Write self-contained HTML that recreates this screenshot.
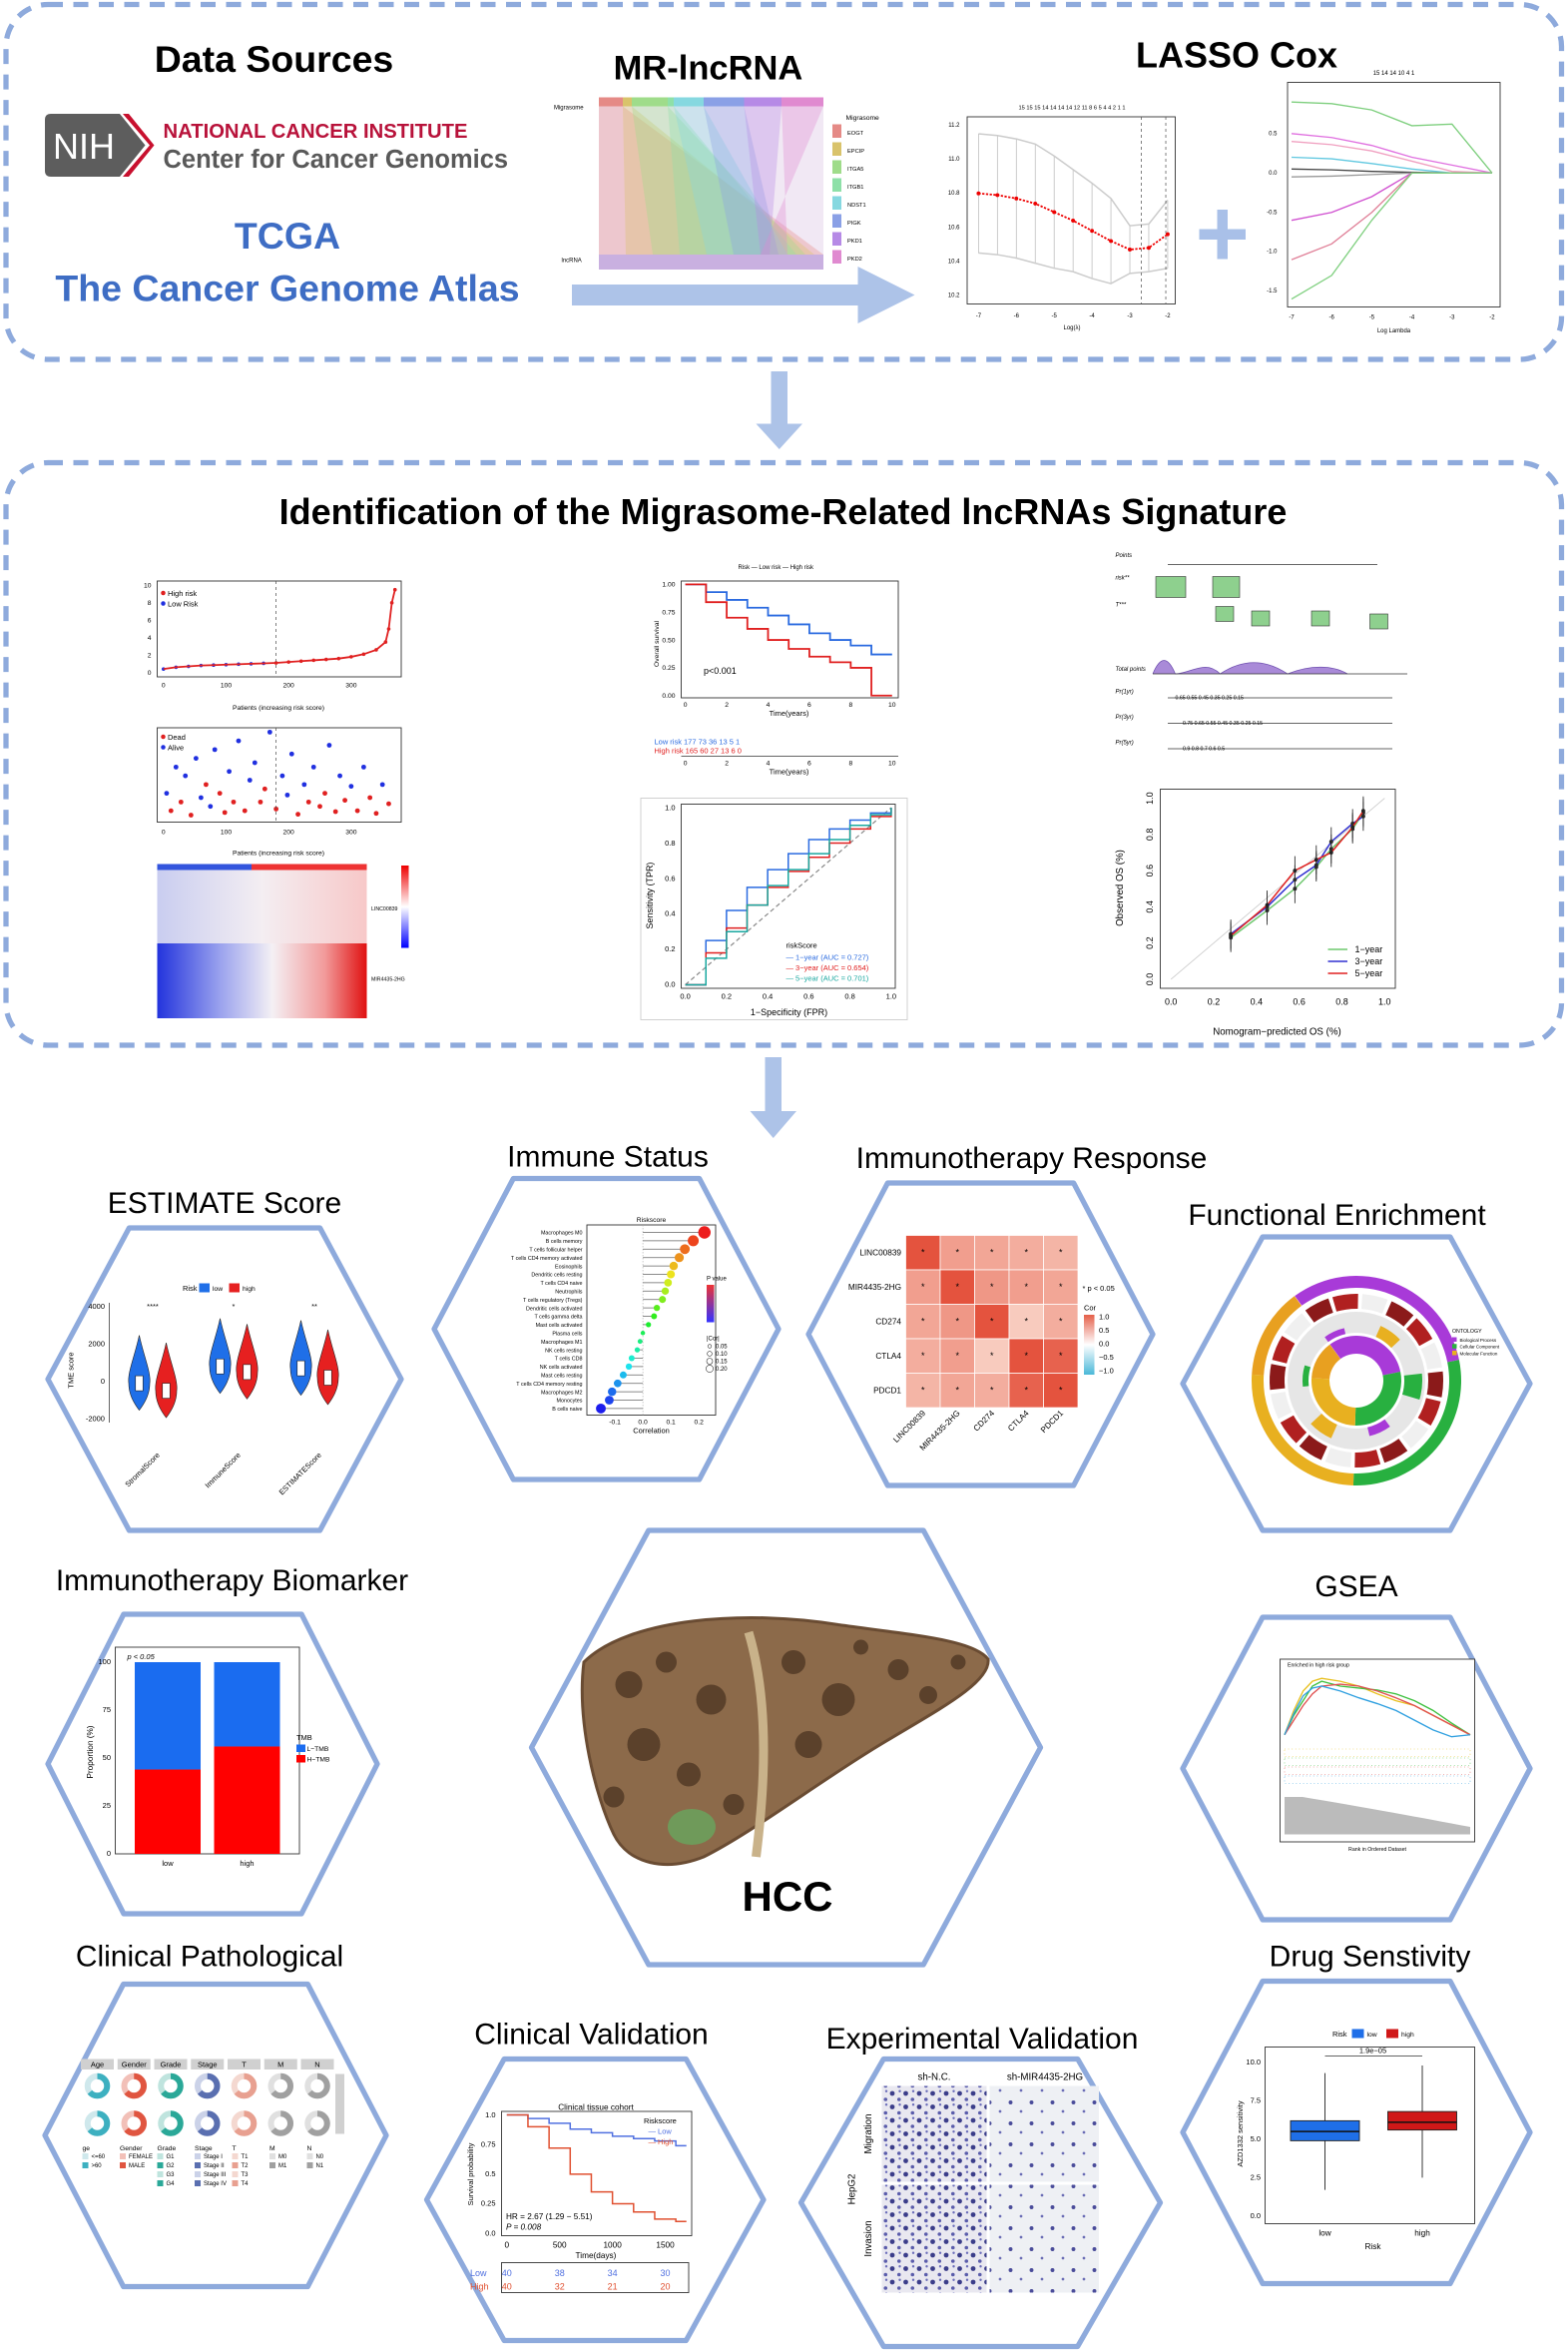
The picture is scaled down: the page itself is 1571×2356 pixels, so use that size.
<!DOCTYPE html>
<html><head><meta charset="utf-8">
<style>
html,body{margin:0;padding:0;background:#fff;}
svg{display:block;font-family:"Liberation Sans",Arial,sans-serif;}
</style></head>
<body>
<svg id="root" width="1571" height="2356" viewBox="0 0 1047.33 1570.67" xmlns="http://www.w3.org/2000/svg">
<defs>
<linearGradient id="hmTop" x1="0" x2="1"><stop offset="0" stop-color="#c9cdf0"/><stop offset="0.5" stop-color="#f4eef2"/><stop offset="1" stop-color="#f7c8c8"/></linearGradient>
<linearGradient id="hmBot" x1="0" x2="1"><stop offset="0" stop-color="#2233dd"/><stop offset="0.3" stop-color="#9aa2ee"/><stop offset="0.55" stop-color="#f4f0f4"/><stop offset="0.8" stop-color="#f29a9a"/><stop offset="1" stop-color="#e01010"/></linearGradient>
<linearGradient id="legRB" x1="0" y1="0" x2="0" y2="1"><stop offset="0" stop-color="#e00"/><stop offset="0.5" stop-color="#fff"/><stop offset="1" stop-color="#00f"/></linearGradient>
<linearGradient id="legP" x1="0" y1="0" x2="0" y2="1"><stop offset="0" stop-color="#e33"/><stop offset="1" stop-color="#33f"/></linearGradient>
<linearGradient id="legC" x1="0" y1="0" x2="0" y2="1"><stop offset="0" stop-color="#e5604a"/><stop offset="0.5" stop-color="#fff"/><stop offset="1" stop-color="#4ab8d8"/></linearGradient>
<pattern id="cells" width="9" height="9" patternUnits="userSpaceOnUse"><rect width="9" height="9" fill="#e9e8f0"/><circle cx="2" cy="3" r="1.6" fill="#3b3d8a"/><circle cx="6.5" cy="7" r="1.2" fill="#5a5cab"/><circle cx="7" cy="1.5" r="0.8" fill="#6b6dbb"/></pattern>
<pattern id="cells2" width="14" height="14" patternUnits="userSpaceOnUse"><rect width="14" height="14" fill="#eef0f4"/><circle cx="3" cy="4" r="1.3" fill="#4a4c9a"/><circle cx="10" cy="10" r="0.9" fill="#6a6cb5"/></pattern>
</defs>

<rect x="4" y="3" width="1039" height="237" rx="28" fill="none" stroke="#8eaadc" stroke-width="3.5" stroke-dasharray="10 7"/>
<text x="183" y="48" font-size="25" font-weight="bold" text-anchor="middle">Data Sources</text>
<g>
<path d="M34,76 H80 L97,97 L80,118 H34 Q30,118 30,114 V80 Q30,76 34,76Z" fill="#5d5d5d"/>
<path d="M82,76 L100,97 L82,118 L86,118 L103,97 L86,76Z" fill="#c8102e"/>
<text x="56" y="106" font-size="24" fill="#fff" text-anchor="middle">NIH</text>
</g>
<text x="109" y="92" font-size="13.5" font-weight="bold" fill="#b8123a">NATIONAL CANCER INSTITUTE</text>
<text x="109" y="112" font-size="17" font-weight="bold" fill="#595959">Center for Cancer Genomics</text>
<text x="192" y="166" font-size="25" font-weight="bold" fill="#3e6dc4" text-anchor="middle">TCGA</text>
<text x="192" y="201" font-size="25" font-weight="bold" fill="#3e6dc4" text-anchor="middle">The Cancer Genome Atlas</text>
<text x="473" y="53" font-size="23" font-weight="bold" text-anchor="middle">MR-lncRNA</text>
<g id="sankey"></g>
<path d="M382,190 H573 V178 L611,197 L573,216 V204 H382Z" fill="#adc3e8"/>
<text x="826" y="45" font-size="24" font-weight="bold" text-anchor="middle">LASSO Cox</text>
<g id="lassoCV"></g>
<path d="M813,140 h7 v13 h12 v7 h-12 v13 h-7 v-13 h-12 v-7 h12z" fill="#a9c0e8"/>
<g id="lassoCoef"></g>

<path d="M515,248 H526 V283 H536 L520.5,300 L505,283 H515Z" fill="#adc3e8"/>

<rect x="4" y="309" width="1039" height="389" rx="28" fill="none" stroke="#8eaadc" stroke-width="3.5" stroke-dasharray="10 7"/>
<text x="523" y="350" font-size="24" font-weight="bold" text-anchor="middle">Identification of the Migrasome-Related lncRNAs Signature</text>
<g id="riskPlot"></g>
<g id="survPlot"></g>
<g id="heatPlot"></g>
<g id="kmPlot"></g>
<g id="rocPlot"></g>
<g id="nomoPlot"></g>
<g id="calPlot"></g>

<path d="M511,706 H522 V742 H532 L516.5,760 L501,742 H511Z" fill="#adc3e8"/>

<g id="hexes"></g>
<text x="150" y="810" font-size="20" text-anchor="middle">ESTIMATE Score</text>
<text x="406" y="779" font-size="20" text-anchor="middle">Immune Status</text>
<text x="689" y="780" font-size="20" text-anchor="middle">Immunotherapy Response</text>
<text x="893" y="818" font-size="20" text-anchor="middle">Functional Enrichment</text>
<text x="155" y="1062" font-size="20" text-anchor="middle">Immunotherapy Biomarker</text>
<text x="906" y="1066" font-size="20" text-anchor="middle">GSEA</text>
<text x="140" y="1313" font-size="20" text-anchor="middle">Clinical Pathological</text>
<text x="395" y="1365" font-size="20" text-anchor="middle">Clinical Validation</text>
<text x="656" y="1368" font-size="20" text-anchor="middle">Experimental Validation</text>
<text x="915" y="1313" font-size="20" text-anchor="middle">Drug Senstivity</text>

<g id="violin"></g>
<g id="lolli"></g>
<g id="corrHeat"></g>
<g id="circos"></g>
<g id="tmbBar"></g>
<g>
<path d="M390,1110 C420,1080 500,1075 560,1085 C610,1092 650,1095 660,1108 C662,1125 620,1145 580,1170 C540,1195 500,1225 470,1240 C445,1250 420,1245 410,1225 C398,1200 385,1150 390,1110Z" fill="#8c6a4a" stroke="#6a4c33" stroke-width="2"/>
<path d="M500,1090 C515,1140 510,1200 505,1240" stroke="#c9b28a" stroke-width="6" fill="none"/>
<ellipse cx="462" cy="1220" rx="16" ry="12" fill="#6f9a5a"/>
<g fill="#5b412b">
<circle cx="420" cy="1125" r="9"/><circle cx="445" cy="1110" r="7"/><circle cx="475" cy="1135" r="10"/><circle cx="430" cy="1165" r="11"/><circle cx="460" cy="1185" r="8"/><circle cx="530" cy="1110" r="8"/><circle cx="560" cy="1135" r="11"/><circle cx="600" cy="1115" r="7"/><circle cx="620" cy="1132" r="6"/><circle cx="540" cy="1165" r="9"/><circle cx="490" cy="1205" r="7"/><circle cx="410" cy="1200" r="7"/><circle cx="575" cy="1100" r="5"/><circle cx="640" cy="1110" r="5"/>
</g>
<text x="526" y="1276" font-size="28" font-weight="bold" text-anchor="middle">HCC</text>
</g>
<g id="gsea"></g>
<g id="donuts"></g>
<g id="cvKM"></g>
<g id="exp"></g>
<g id="drug"></g>
</svg>

<script>
const cvLambda=[-7,-6.5,-6,-5.5,-5,-4.5,-4,-3.5,-3,-2.5,-2];
const cvDeviance=[10.80,10.79,10.77,10.74,10.69,10.64,10.58,10.52,10.47,10.48,10.56];
const cvErr=[0.35,0.35,0.35,0.35,0.33,0.30,0.28,0.25,0.14,0.14,0.2];
const coefLambda=[-7,-6,-5,-4,-3,-2];
const coefSeries=[[0.9,0.88,0.8,0.6,0.62,0],[0.5,0.45,0.35,0.2,0.1,0],[0.4,0.36,0.28,0.15,0.02,0],[0.2,0.18,0.12,0.05,0,0],[0.05,0.04,0.02,0.01,0,0],[-0.05,-0.04,-0.02,0,0,0],[-0.6,-0.5,-0.3,0,0,0],[-1.1,-0.9,-0.5,0,0,0],[-1.6,-1.3,-0.6,0,0,0]];
const coefColors=["#7ecf7e","#e070e0","#f0a0c0","#60c8e0","#444","#999","#d050d0","#e08098","#80d080"];
const riskIdx=[0,20,40,60,80,100,120,140,160,180,200,220,240,260,280,300,320,340,355,360,365,370];
const riskVal=[0.4,0.6,0.7,0.8,0.85,0.9,0.95,1.0,1.05,1.1,1.2,1.3,1.4,1.5,1.6,1.8,2.1,2.6,3.5,5,8,9.5];
const survIdx=[5,12,20,28,35,44,52,60,68,75,82,90,98,105,112,120,130,138,146,155,162,170,180,190,198,205,215,225,232,240,250,258,265,275,282,290,300,310,320,330,340,350,360];
const survTime=[3,1,6,2,5,0.5,7,2.5,4,1.5,8,3,0.8,5.5,2,9,1,4.5,6.5,2,3.5,10,1.2,5,2.8,7.5,0.6,4,2,6,1.5,3,8.5,0.9,5,2.2,3.8,1,6,2.5,0.7,4,1.8];
const survDead=[0,1,0,1,0,1,0,0,1,0,0,1,1,0,1,0,1,0,0,1,1,0,1,0,0,0,1,0,1,0,1,1,0,1,0,1,0,1,0,1,1,0,1];
const kmTime=[0,1,2,3,4,5,6,7,8,9,10];
const kmLow=[1,0.93,0.86,0.79,0.72,0.64,0.56,0.5,0.45,0.37,0.37];
const kmHigh=[1,0.84,0.7,0.6,0.5,0.42,0.35,0.3,0.25,0,0];
const rocFPR=[0,0.1,0.2,0.3,0.4,0.5,0.6,0.7,0.8,0.9,1];
const roc1=[0,0.25,0.42,0.55,0.65,0.74,0.82,0.88,0.93,0.97,1];
const roc3=[0,0.18,0.32,0.45,0.55,0.64,0.72,0.8,0.88,0.95,1];
const roc5=[0,0.15,0.3,0.45,0.56,0.65,0.74,0.82,0.9,0.96,1];
const calPred=[0.28,0.45,0.58,0.68,0.75,0.85,0.9];
const cal1=[0.23,0.38,0.5,0.62,0.72,0.83,0.92];
const cal3=[0.25,0.4,0.55,0.63,0.76,0.86,0.9];
const cal5=[0.24,0.41,0.6,0.66,0.7,0.84,0.93];
const violinGroups=["StromalScore","ImmuneScore","ESTIMATEScore"];
const violinLowMed=[-100,800,700];
const violinHighMed=[-500,500,200];
const immuneCells=["Macrophages M0","B cells memory","T cells follicular helper","T cells CD4 memory activated","Eosinophils","Dendritic cells resting","T cells CD4 naive","Neutrophils","T cells regulatory (Tregs)","Dendritic cells activated","T cells gamma delta","Mast cells activated","Plasma cells","Macrophages M1","NK cells resting","T cells CD8","NK cells activated","Mast cells resting","T cells CD4 memory resting","Macrophages M2","Monocytes","B cells naive"];
const immuneCorr=[0.22,0.18,0.15,0.13,0.11,0.1,0.09,0.08,0.07,0.05,0.04,0.02,0.0,-0.01,-0.02,-0.04,-0.05,-0.07,-0.09,-0.11,-0.12,-0.15];
const corrGenes=["LINC00839","MIR4435-2HG","CD274","CTLA4","PDCD1"];
const corrMatrix=[[1,0.5,0.45,0.4,0.35],[0.5,1,0.55,0.5,0.45],[0.45,0.55,1,0.2,0.4],[0.4,0.5,0.2,1,0.9],[0.35,0.45,0.4,0.9,1]];
const tmbGroups=["low","high"];
const tmbHigh=[44,56];
const gseaX=[0,0.05,0.1,0.15,0.2,0.3,0.4,0.5,0.6,0.7,0.8,0.9,1];
const gseaES=[[0,0.25,0.45,0.55,0.58,0.55,0.5,0.42,0.35,0.3,0.2,0.1,0],[0,0.2,0.35,0.5,0.55,0.5,0.48,0.46,0.42,0.35,0.25,0.12,0],[0,0.15,0.3,0.42,0.5,0.52,0.5,0.45,0.38,0.3,0.2,0.1,0],[0,0.22,0.4,0.48,0.5,0.45,0.38,0.32,0.25,0.15,0.05,-0.02,0]];
const gseaColors=["#e8c020","#40c040","#e05050","#30a0e0"];
const cvDays=[0,200,400,600,800,1000,1200,1400,1600,1700];
const cvLowSurv=[1,0.97,0.93,0.88,0.85,0.82,0.8,0.78,0.74,0.74];
const cvHighSurv=[1,0.9,0.72,0.5,0.35,0.25,0.18,0.12,0.1,0.1];
const drugLow=[5.5,6.2,6.8,4.9,4.2];
const drugHigh=[6.1,6.8,7.3,5.6,5.0];

const NS="http://www.w3.org/2000/svg";
function mk(parent,tag,attrs,name){const el=document.createElementNS(NS,tag);for(const k in attrs)el.setAttribute(k,attrs[k]);


parent.appendChild(el);return el;}
function txt(p,x,y,s,size,name,extra){const t=mk(p,'text',Object.assign({x:x,y:y,'font-size':size},extra||{}),name);t.textContent=s;return t;}
function lin(d0,d1,r0,r1){return v=>r0+(v-d0)/(d1-d0)*(r1-r0);}
function G(id){return document.getElementById(id);}
function frame(p,x0,y0,x1,y1){mk(p,'rect',{x:x0,y:y0,width:x1-x0,height:y1-y0,fill:'#fff',stroke:'#333','stroke-width':0.6},'plot-frame');}
function poly(p,xs,ys,X,Y,col,w,name,step){let d='';xs.forEach((v,i)=>{if(i==0)d+='M'+X(v)+','+Y(ys[i]);else if(step)d+='H'+X(v)+'V'+Y(ys[i]);else d+='L'+X(v)+','+Y(ys[i]);});return mk(p,'path',{d:d,fill:'none',stroke:col,'stroke-width':w||1},name);}

(function(){const g=G('sankey');const cols=["#e58a86","#d9c36b","#9fdc8a","#8ee0a8","#86d8e0","#8aa0e6","#b68ae6","#e08ad0"];
const tops=[400,416,422,446,450,470,497,522,550];
mk(g,'rect',{x:400,y:65,width:150,height:112,fill:'#f1e8f4'},'sankey-bg');
for(let i=0;i<8;i++){mk(g,'rect',{x:tops[i],y:65,width:tops[i+1]-tops[i],height:6,fill:cols[i]},'sankey-top-node');
mk(g,'path',{d:`M${tops[i]},71 L${tops[i+1]},71 L${550-i*6},170 L${400+i*18},170Z`,fill:cols[i],opacity:0.35},'sankey-flow');
mk(g,'rect',{x:556,y:83+i*12,width:6,height:9,fill:cols[i]},'sankey-legend-key');}
mk(g,'rect',{x:400,y:170,width:150,height:10,fill:'#c9b0e0'},'sankey-bottom-node');
txt(g,370,73,'Migrasome',4,'sankey-top-label');txt(g,375,175,'lncRNA',4,'sankey-bottom-label');txt(g,565,80,'Migrasome',4.5,'sankey-legend-title');
["EOGT","EPCIP","ITGA5","ITGB1","NDST1","PIGK","PKD1","PKD2"].forEach((s,i)=>txt(g,566,90+i*12,s,3.8,'sankey-legend-label'));})();

(function(){const g=G('lassoCV');frame(g,646,78,785,203);const X=lin(-7.3,-1.8,646,785),Y=lin(10.15,11.25,203,78);
cvLambda.forEach((l,i)=>{mk(g,'line',{x1:X(l),x2:X(l),y1:Y(cvDeviance[i]-cvErr[i]),y2:Y(cvDeviance[i]+cvErr[i]),stroke:'#bbb','stroke-width':0.5},'cv-error-bar');});
poly(g,cvLambda,cvDeviance.map((d,i)=>d+cvErr[i]),X,Y,'#ccc',1,'cv-upper');poly(g,cvLambda,cvDeviance.map((d,i)=>d-cvErr[i]),X,Y,'#ccc',1,'cv-lower');
cvLambda.forEach((l,i)=>mk(g,'circle',{cx:X(l),cy:Y(cvDeviance[i]),r:1.3,fill:'#e00'},'cv-point'));
poly(g,cvLambda,cvDeviance,X,Y,'#e00',1.2,'cv-curve').setAttribute('stroke-dasharray','1.5 1');
mk(g,'line',{x1:X(-2.7),x2:X(-2.7),y1:78,y2:203,stroke:'#555','stroke-width':0.5,'stroke-dasharray':'2 2'},'lambda-min-line');
mk(g,'line',{x1:X(-2.05),x2:X(-2.05),y1:78,y2:203,stroke:'#555','stroke-width':0.5,'stroke-dasharray':'2 2'},'lambda-1se-line');
[-7,-6,-5,-4,-3,-2].forEach(v=>txt(g,X(v),212,String(v),4,'cv-x-tick',{'text-anchor':'middle'}));
[10.2,10.4,10.6,10.8,11.0,11.2].forEach(v=>txt(g,641,Y(v)+1,v.toFixed(1),4,'cv-y-tick',{'text-anchor':'end'}));
txt(g,716,220,'Log(λ)',4,'cv-x-title',{'text-anchor':'middle'});
txt(g,716,73,'15 15 15 14 14 14 14 12 11 8 6 5 4 4 2 1 1',3.8,'cv-top-ticks',{'text-anchor':'middle'});})();

(function(){const g=G('lassoCoef');mk(g,'rect',{x:860,y:55,width:142,height:150,fill:'#fff',stroke:'#333','stroke-width':0.6},'coef-frame');
const X=lin(-7.1,-1.8,860,1002),Y=lin(-1.7,1.15,205,55);
coefSeries.forEach((s,i)=>poly(g,coefLambda,s,X,Y,coefColors[i],0.9,'coef-line'));
[-7,-6,-5,-4,-3,-2].forEach(v=>txt(g,X(v),213,String(v),4,'coef-x-tick',{'text-anchor':'middle'}));
[-1.5,-1.0,-0.5,0,0.5].forEach(v=>txt(g,853,Y(v)+1,v.toFixed(1),4,'coef-y-tick',{'text-anchor':'end'}));
txt(g,931,222,'Log Lambda',4,'coef-x-title',{'text-anchor':'middle'});
txt(g,931,50,'15      14      14      10      4       1',4,'coef-top-ticks',{'text-anchor':'middle'});})();

(function(){const g=G('riskPlot');frame(g,105,388,268,452);const X=lin(-10,380,105,268),Y=lin(-0.5,10.5,452,388);
riskIdx.forEach((v,i)=>mk(g,'circle',{cx:X(v),cy:Y(riskVal[i]),r:1.2,fill:v<180?'#2030e0':'#e02020'},'risk-point'));
poly(g,riskIdx,riskVal,X,Y,'#e02020',1.2,'risk-curve');
mk(g,'line',{x1:X(180),x2:X(180),y1:388,y2:452,stroke:'#555','stroke-width':0.5,'stroke-dasharray':'2 2'},'risk-cutoff');
[0,100,200,300].forEach(v=>txt(g,X(v),459,String(v),4.5,'risk-x-tick',{'text-anchor':'middle'}));
[0,2,4,6,8,10].forEach(v=>txt(g,101,Y(v)+1.5,String(v),4.5,'risk-y-tick',{'text-anchor':'end'}));
txt(g,186,474,'Patients (increasing risk score)',4.5,'risk-x-title',{'text-anchor':'middle'});
mk(g,'circle',{cx:109,cy:396,r:1.5,fill:'#e02020'},'legend-high');txt(g,112,398,'High risk',5,'legend-high-label');
mk(g,'circle',{cx:109,cy:403,r:1.5,fill:'#2030e0'},'legend-low');txt(g,112,405,'Low Risk',5,'legend-low-label');})();

(function(){const g=G('survPlot');frame(g,105,486,268,549);const X=lin(-10,380,105,268),Y=lin(-0.3,10.5,549,486);
survIdx.forEach((v,i)=>mk(g,'circle',{cx:X(v),cy:Y(survTime[i]),r:1.6,fill:survDead[i]?'#e02020':'#2030e0'},'survival-point'));
mk(g,'line',{x1:X(180),x2:X(180),y1:486,y2:549,stroke:'#555','stroke-width':0.5,'stroke-dasharray':'2 2'},'survival-cutoff');
[0,100,200,300].forEach(v=>txt(g,X(v),557,String(v),4.5,'surv-x-tick',{'text-anchor':'middle'}));
txt(g,186,571,'Patients (increasing risk score)',4.5,'surv-x-title',{'text-anchor':'middle'});
mk(g,'circle',{cx:109,cy:492,r:1.5,fill:'#e02020'},'legend-dead');txt(g,112,494,'Dead',5,'legend-dead-label');
mk(g,'circle',{cx:109,cy:499,r:1.5,fill:'#2030e0'},'legend-alive');txt(g,112,501,'Alive',5,'legend-alive-label');})();

(function(){const g=G('heatPlot');mk(g,'rect',{x:105,y:577,width:63,height:4,fill:'#3355dd'},'risk-bar-low');mk(g,'rect',{x:168,y:577,width:77,height:4,fill:'#ee3333'},'risk-bar-high');
mk(g,'rect',{x:105,y:581,width:140,height:49,fill:'url(#hmTop)'},'heatmap-row-linc00839');
mk(g,'rect',{x:105,y:630,width:140,height:50,fill:'url(#hmBot)'},'heatmap-row-mir4435');
mk(g,'rect',{x:268,y:578,width:5,height:55,fill:'url(#legRB)'},'heatmap-legend');
txt(g,248,608,'LINC00839',3.5,'heatmap-label-1');txt(g,248,655,'MIR4435-2HG',3.5,'heatmap-label-2');})();

(function(){const g=G('kmPlot');frame(g,455,388,600,466);const X=lin(-0.2,10.3,455,600),Y=lin(-0.02,1.03,466,388);
poly(g,kmTime,kmLow,X,Y,'#2b6be0',1.2,'km-low-risk',true);poly(g,kmTime,kmHigh,X,Y,'#e02020',1.2,'km-high-risk',true);
txt(g,470,450,'p<0.001',6,'km-pvalue');
[0,2,4,6,8,10].forEach(v=>txt(g,X(v),472,String(v),4.5,'km-x-tick',{'text-anchor':'middle'}));
[0,0.25,0.5,0.75,1].forEach(v=>txt(g,451,Y(v)+1.5,v.toFixed(2),4.5,'km-y-tick',{'text-anchor':'end'}));
txt(g,527,478,'Time(years)',5,'km-x-title',{'text-anchor':'middle'});
txt(g,493,380,'Risk  — Low risk  — High risk',4,'km-legend');
txt(g,440,430,'Overall survival',4.5,'km-y-title',{transform:'rotate(-90 440 430)','text-anchor':'middle'});
mk(g,'line',{x1:455,x2:600,y1:505,y2:505,stroke:'#333','stroke-width':0.5},'risk-table-axis');
txt(g,437,497,'Low risk  177      73        36        13         5          1',5,'risk-table-low',{fill:'#2b6be0'});
txt(g,437,503,'High risk 165      60        27        13         6          0',5,'risk-table-high',{fill:'#e02020'});
[0,2,4,6,8,10].forEach(v=>txt(g,X(v),511,String(v),4.5,'table-x-tick',{'text-anchor':'middle'}));
txt(g,527,517,'Time(years)',5,'table-x-title',{'text-anchor':'middle'});})();

(function(){const g=G('rocPlot');mk(g,'rect',{x:428,y:533,width:178,height:148,fill:'#fff',stroke:'#ccc','stroke-width':0.6},'roc-panel');frame(g,455,537,598,660);
const X=lin(-0.02,1.02,455,598),Y=lin(-0.02,1.02,660,537);
mk(g,'line',{x1:X(0),y1:Y(0),x2:X(1),y2:Y(1),stroke:'#888','stroke-dasharray':'3 2','stroke-width':0.8},'roc-diagonal');
poly(g,rocFPR,roc1,X,Y,'#2b6be0',1,'roc-1-year',true);poly(g,rocFPR,roc3,X,Y,'#e02020',1,'roc-3-year',true);poly(g,rocFPR,roc5,X,Y,'#1aa8a0',1,'roc-5-year',true);
[0,0.2,0.4,0.6,0.8,1].forEach(v=>{txt(g,X(v),667,v.toFixed(1),5,'roc-x-tick',{'text-anchor':'middle'});txt(g,451,Y(v)+1.5,v.toFixed(1),5,'roc-y-tick',{'text-anchor':'end'});});
txt(g,527,678,'1−Specificity (FPR)',6,'roc-x-title',{'text-anchor':'middle'});
txt(g,436,598,'Sensitivity (TPR)',6,'roc-y-title',{transform:'rotate(-90 436 598)','text-anchor':'middle'});
txt(g,525,633,'riskScore',5,'roc-legend-title');txt(g,525,641,'— 1−year (AUC = 0.727)',5,'roc-legend-1',{fill:'#2b6be0'});
txt(g,525,648,'— 3−year (AUC = 0.654)',5,'roc-legend-3',{fill:'#e02020'});txt(g,525,655,'— 5−year (AUC = 0.701)',5,'roc-legend-5',{fill:'#1aa8a0'});})();

(function(){const g=G('nomoPlot');
const rows=[372,387,405,428,448,463,480,497];["Points","risk**","T***","","Total points","Pr(1yr)","Pr(3yr)","Pr(5yr)"].forEach((s,i)=>txt(g,745,rows[i],s,4,'nomogram-row-label',{'font-style':'italic'}));
mk(g,'line',{x1:780,x2:920,y1:377,y2:377,stroke:'#333','stroke-width':0.5},'points-axis');
mk(g,'rect',{x:772,y:385,width:20,height:14,fill:'#8ed08e',stroke:'#333','stroke-width':0.4},'risk-box-1');mk(g,'rect',{x:810,y:385,width:18,height:14,fill:'#8ed08e',stroke:'#333','stroke-width':0.4},'risk-box-2');
[[812,405],[836,408],[876,408],[915,410]].forEach(p=>mk(g,'rect',{x:p[0],y:p[1],width:12,height:10,fill:'#8ed08e',stroke:'#333','stroke-width':0.4},'t-box'));
mk(g,'path',{d:'M770,450 C775,438 780,438 785,450 C795,450 805,440 815,450 C830,440 845,440 860,450 C875,444 890,444 900,450',fill:'#a98ad8',stroke:'#7050b0','stroke-width':0.5},'points-density');
mk(g,'line',{x1:770,x2:940,y1:450,y2:450,stroke:'#333','stroke-width':0.5},'total-axis');
[466,483,500].forEach(y=>mk(g,'line',{x1:780,x2:930,y1:y,y2:y,stroke:'#333','stroke-width':0.5},'prob-axis'));
txt(g,785,467,'0.65     0.55     0.45     0.35     0.25     0.15',3.5,'prob-ticks-1');
txt(g,790,484,'0.75     0.65     0.55     0.45     0.35     0.25     0.15',3.5,'prob-ticks-3');
txt(g,790,501,'0.9           0.8           0.7           0.6           0.5',3.5,'prob-ticks-5');})();

(function(){const g=G('calPlot');frame(g,775,527,932,660);const X=lin(-0.05,1.05,775,932),Y=lin(-0.05,1.05,660,527);
mk(g,'line',{x1:X(0),y1:Y(0),x2:X(1),y2:Y(1),stroke:'#ccc','stroke-width':0.6},'cal-ideal');
[[cal1,'#6fc86f'],[cal3,'#3030d0'],[cal5,'#e02020']].forEach(c=>{poly(g,calPred,c[0],X,Y,c[1],1,'cal-line');calPred.forEach((p,i)=>{mk(g,'line',{x1:X(p),x2:X(p),y1:Y(c[0][i]-0.08),y2:Y(c[0][i]+0.08),stroke:'#333','stroke-width':0.6},'cal-errorbar');mk(g,'circle',{cx:X(p),cy:Y(c[0][i]),r:1.3,fill:'#222'},'cal-point');});});
[0,0.2,0.4,0.6,0.8,1].forEach(v=>{txt(g,X(v),671,v.toFixed(1),6,'cal-x-tick',{'text-anchor':'middle'});txt(g,768,Y(v)+2,v.toFixed(1),6,'cal-y-tick',{'text-anchor':'middle',transform:`rotate(-90 768 ${Y(v)})`});});
txt(g,853,691,'Nomogram−predicted OS (%)',6.5,'cal-x-title',{'text-anchor':'middle'});
txt(g,750,593,'Observed OS (%)',6.5,'cal-y-title',{transform:'rotate(-90 750 593)','text-anchor':'middle'});
[['1−year','#6fc86f',636],['3−year','#3030d0',644],['5−year','#e02020',652]].forEach(l=>{mk(g,'line',{x1:887,x2:900,y1:l[2]-2,y2:l[2]-2,stroke:l[1]},'cal-legend-key');txt(g,905,l[2],l[0],6,'cal-legend-label');});})();

(function(){const g=G('hexes');
const hx=[['estimate-hexagon',32,268,820,1022],['immune-status-hexagon',290,520,787,988],['immunotherapy-response-hexagon',540,770,790,992],['functional-enrichment-hexagon',790,1022,826,1022],['immunotherapy-biomarker-hexagon',32,252,1078,1278],['hcc-hexagon',355,695,1022,1312],['gsea-hexagon',790,1022,1080,1282],['clinical-pathological-hexagon',30,258,1325,1527],['clinical-validation-hexagon',285,510,1375,1563],['experimental-validation-hexagon',535,775,1375,1567],['drug-sensitivity-hexagon',790,1022,1323,1525]];
hx.forEach(h=>{const [n,x0,x1,y0,y1]=h;const i=(x1-x0)*0.23,ym=(y0+y1)/2;mk(g,'polygon',{points:`${x0},${ym} ${x0+i},${y0} ${x1-i},${y0} ${x1},${ym} ${x1-i},${y1} ${x0+i},${y1}`,fill:'#fff',stroke:'#8eaadc','stroke-width':3.5,'stroke-linejoin':'round'},n);});})();

(function(){const g=G('violin');const Y=lin(-3000,5000,960,860);mk(g,'line',{x1:73,x2:73,y1:870,y2:950,stroke:'#333','stroke-width':0.5},'violin-y-axis');
[-2000,0,2000,4000].forEach(v=>txt(g,70,Y(v)+1.5,String(v),5,'violin-y-tick',{'text-anchor':'end'}));
txt(g,49,915,'TME score',5,'violin-y-title',{transform:'rotate(-90 49 915)','text-anchor':'middle'});
txt(g,122,862,'Risk',5,'violin-legend');mk(g,'rect',{x:133,y:857,width:7,height:6,fill:'#1f6fe8'},'legend-low-key');txt(g,142,862,'low',4.5,'legend-low-text');mk(g,'rect',{x:153,y:857,width:7,height:6,fill:'#e62020'},'legend-high-key');txt(g,162,862,'high',4.5,'legend-high-text');
violinGroups.forEach((gr,i)=>{const cx=102+i*54;[[violinLowMed[i],'#1f6fe8',cx-9],[violinHighMed[i],'#e62020',cx+9]].forEach(v=>{const m=Y(v[0]);mk(g,'path',{d:`M${v[2]},${m-32} C${v[2]+3},${m-18} ${v[2]+8},${m-7} ${v[2]+7},${m} C${v[2]+7},${m+8} ${v[2]+3},${m+14} ${v[2]},${m+18} C${v[2]-3},${m+14} ${v[2]-7},${m+8} ${v[2]-7},${m} C${v[2]-8},${m-7} ${v[2]-3},${m-18} ${v[2]},${m-32}Z`,fill:v[1],stroke:'#222','stroke-width':0.4},'violin-shape');mk(g,'rect',{x:v[2]-2.5,y:m-5,width:5,height:10,fill:'#fff',stroke:'#222','stroke-width':0.4},'violin-box');});
txt(g,cx,874,['****','*','**'][i],5,'violin-sig',{'text-anchor':'middle'});
txt(g,cx+5,972,gr,5,'violin-x-label',{transform:`rotate(-45 ${cx+5} 972)`,'text-anchor':'end'});});})();

(function(){const g=G('lolli');frame(g,392,818,478,945);const X=lin(-0.2,0.26,392,478),Y=i=>823+i*5.6;
txt(g,435,816,'Riskscore',4.5,'lolli-title',{'text-anchor':'middle'});
mk(g,'line',{x1:X(0),x2:X(0),y1:818,y2:945,stroke:'#aaa','stroke-width':0.4,'stroke-dasharray':'1 1'},'lolli-zero');
immuneCells.forEach((c,i)=>{const col=`hsl(${(i/21)*240},85%,52%)`;mk(g,'line',{x1:X(0),x2:X(immuneCorr[i]),y1:Y(i),y2:Y(i),stroke:'#666','stroke-width':0.5},'lolli-stem');
mk(g,'circle',{cx:X(immuneCorr[i]),cy:Y(i),r:1.5+Math.abs(immuneCorr[i])*12,fill:col},'lolli-dot');txt(g,389,Y(i)+1.5,c,3.6,'lolli-label',{'text-anchor':'end'});});
[-0.1,0,0.1,0.2].forEach(v=>txt(g,X(v),951,v.toFixed(1),4.5,'lolli-x-tick',{'text-anchor':'middle'}));txt(g,435,957,'Correlation',5,'lolli-x-title',{'text-anchor':'middle'});
txt(g,472,855,'P value',4,'lolli-legend');mk(g,'rect',{x:472,y:858,width:5,height:25,fill:'url(#legP)'},'lolli-legend-bar');
txt(g,472,895,'|Cor|',4,'lolli-legend-size');[0.05,0.1,0.15,0.2].forEach((v,i)=>{mk(g,'circle',{cx:474,cy:899+i*5,r:1.2+i*0.4,fill:'none',stroke:'#333','stroke-width':0.4},'size-key');txt(g,478,900.5+i*5,v.toFixed(2),4,'size-label');});})();

(function(){const g=G('corrHeat');const x0=605,y0=825,c=23;
function col(v){const t=Math.max(0,Math.min(1,v));return `rgb(${Math.round(253-t*25)},${Math.round(233-t*150)},${Math.round(222-t*160)})`;}
corrMatrix.forEach((r,i)=>r.forEach((v,j)=>{mk(g,'rect',{x:x0+j*c,y:y0+i*c,width:c,height:c,fill:col(v),stroke:'#fff','stroke-width':0.5},'corr-cell');txt(g,x0+j*c+c/2,y0+i*c+c/2+2,'*',6,'corr-star',{'text-anchor':'middle'});}));
corrGenes.forEach((s,i)=>{txt(g,x0-3,y0+i*c+c/2+2,s,5.5,'corr-row-label',{'text-anchor':'end'});txt(g,x0+i*c+c/2+2,y0+5*c+4,s,5.5,'corr-col-label',{'text-anchor':'end',transform:`rotate(-45 ${x0+i*c+c/2+2} ${y0+5*c+4})`});});
txt(g,723,862,'* p < 0.05',5,'corr-sig-legend');txt(g,724,875,'Cor',5,'corr-legend-title');mk(g,'rect',{x:724,y:878,width:7,height:40,fill:'url(#legC)'},'corr-legend-bar');
['1.0','0.5','0.0','−0.5','−1.0'].forEach((s,i)=>txt(g,734,881+i*9,s,5,'corr-legend-tick'));})();

(function(){const g=G('circos');const cx=906,cy=922;
function arc(r0,r1,a0,a1,fill,name){const p=(r,a)=>[cx+r*Math.cos(a),cy+r*Math.sin(a)];const [x0,y0]=p(r1,a0),[x1,y1]=p(r1,a1),[x2,y2]=p(r0,a1),[x3,y3]=p(r0,a0);const lg=(a1-a0)>Math.PI?1:0;
mk(g,'path',{d:`M${x0},${y0} A${r1},${r1} 0 ${lg} 1 ${x1},${y1} L${x2},${y2} A${r0},${r0} 0 ${lg} 0 ${x3},${y3}Z`,fill:fill},name);}
const segs=[[-2.2,-0.2,'#a83ad8'],[-0.2,1.6,'#28b040'],[1.6,3.2,'#e8b020'],[3.2,4.08,'#e8a020']];
segs.forEach(s=>arc(62,70,s[0],s[1],s[2],'circos-outer-ring'));
for(let k=0;k<18;k++){const a0=-2.2+k*0.349;arc(48,58,a0,a0+0.3,k%3==0?'#8b1a1a':(k%3==1?'#b02020':'#f0f0f0'),'circos-bar-ring');}
mk(g,'circle',{cx:cx,cy:cy,r:39,fill:'none',stroke:'#e6e6e6','stroke-width':14},'circos-grey-ring');
for(let k=0;k<12;k++){const a0=-2.2+k*0.523;if(k%2==0)arc(32,32+4+(k%5)*2,a0,a0+0.4,['#a83ad8','#28b040','#e8b020'][k%3],'circos-rich-bar');}
segs.forEach(s=>arc(18,30,s[0],s[1],s[2],'circos-inner-ring'));
mk(g,'rect',{x:cx-12,y:cy-8,width:24,height:16,fill:'#fff'},'circos-center-legend');
txt(g,970,890,'ONTOLOGY',3.5,'circos-legend-title');['Biological Process','Cellular Component','Molecular Function'].forEach((s,i)=>{mk(g,'rect',{x:970,y:893+i*4.5,width:3,height:3,fill:['#a83ad8','#28b040','#e8b020'][i]},'circos-legend-key');txt(g,975,896+i*4.5,s,3,'circos-legend-label');});})();

(function(){const g=G('tmbBar');frame(g,77,1100,200,1238);const Y=lin(0,100,1238,1110);
tmbGroups.forEach((s,i)=>{const x=90+i*53;mk(g,'rect',{x:x,y:Y(100),width:44,height:Y(tmbHigh[i])-Y(100),fill:'#1a6cf0'},'bar-l-tmb-'+s);mk(g,'rect',{x:x,y:Y(tmbHigh[i]),width:44,height:Y(0)-Y(tmbHigh[i]),fill:'#ff0000'},'bar-h-tmb-'+s);txt(g,x+22,1246,s,5,'tmb-x-label',{'text-anchor':'middle'});});
[0,25,50,75,100].forEach(v=>txt(g,74,Y(v)+1.5,String(v),5,'tmb-y-tick',{'text-anchor':'end'}));
txt(g,85,1108,'p < 0.05',5,'tmb-pvalue',{'font-style':'italic'});
txt(g,62,1170,'Proportion (%)',5.5,'tmb-y-title',{transform:'rotate(-90 62 1170)','text-anchor':'middle'});
txt(g,198,1162,'TMB',5,'tmb-legend-title');mk(g,'rect',{x:198,y:1165,width:6,height:5,fill:'#1a6cf0'},'legend-ltmb-key');txt(g,205,1169.5,'L−TMB',4.5,'legend-ltmb');mk(g,'rect',{x:198,y:1172,width:6,height:5,fill:'#ff0000'},'legend-htmb-key');txt(g,205,1176.5,'H−TMB',4.5,'legend-htmb');})();

(function(){const g=G('gsea');frame(g,855,1108,985,1230);const X=lin(0,1,858,982),Y=lin(-0.1,0.7,1165,1113);
txt(g,860,1113,'Enriched in high risk group',3.5,'gsea-title');
gseaES.forEach((s,i)=>poly(g,gseaX,s,X,Y,gseaColors[i],0.9,'gsea-es-curve'));
for(let k=0;k<4;k++){mk(g,'rect',{x:858,y:1168+k*6,width:124,height:5,fill:'none',stroke:gseaColors[k],'stroke-width':0.4,'stroke-dasharray':'0.6 1.8'},'gsea-hit-row');}
mk(g,'path',{d:'M858,1200 L870,1200 C900,1205 940,1212 982,1220 L982,1225 L858,1225Z',fill:'#bbb'},'gsea-ranked-metric');
txt(g,920,1236,'Rank in Ordered Dataset',3.5,'gsea-x-title',{'text-anchor':'middle'});})();

(function(){const g=G('donuts');const hdr=['Age','Gender','Grade','Stage','T','M','N'];const colrs=[['#3db0c0','#cfe8ec'],['#e05540','#f2c0b8'],['#2aa898','#bfe4de'],['#5a6fb0','#cbd2e8'],['#e8a090','#f4d8d0'],['#a0a0a0','#e0e0e0'],['#a0a0a0','#e0e0e0']];
hdr.forEach((h,i)=>{const x=65+i*24.5;mk(g,'rect',{x:x-11,y:1375,width:22,height:7,fill:'#d0d0d0'},'donut-header');txt(g,x,1380.5,h,5,'donut-header-label',{'text-anchor':'middle'});
[1393,1418].forEach(y=>{mk(g,'circle',{cx:x,cy:y,r:6.5,fill:'none',stroke:colrs[i][1],'stroke-width':4},'donut-bg');mk(g,'circle',{cx:x,cy:y,r:6.5,fill:'none',stroke:colrs[i][0],'stroke-width':4,'stroke-dasharray':'26 15',transform:`rotate(-90 ${x} ${y})`},'donut-value');});});
mk(g,'rect',{x:224,y:1385,width:6,height:40,fill:'#d0d0d0'},'donut-side-header');
const leg=[['ge','<=60','>60'],['Gender','FEMALE','MALE'],['Grade','G1','G2','G3','G4'],['Stage','Stage I','Stage II','Stage III','Stage IV'],['T','T1','T2','T3','T4'],['M','M0','M1'],['N','N0','N1']];
leg.forEach((l,i)=>{const x=55+i*25;txt(g,x,1436,l[0],4.5,'donut-legend-title');l.slice(1).forEach((s,k)=>{mk(g,'rect',{x:x,y:1438+k*6,width:4,height:4,fill:k%2?colrs[i][0]:colrs[i][1]},'donut-legend-key');txt(g,x+6,1441.5+k*6,s,4,'donut-legend-label');});});})();

(function(){const g=G('cvKM');frame(g,335,1410,462,1493);const X=lin(-50,1750,335,462),Y=lin(-0.02,1.03,1493,1410);
txt(g,398,1409,'Clinical tissue cohort',5.5,'cv-title',{'text-anchor':'middle'});
poly(g,cvDays,cvLowSurv,X,Y,'#5070e0',1,'cv-low-curve',true);poly(g,cvDays,cvHighSurv,X,Y,'#e05030',1,'cv-high-curve',true);
[0,500,1000,1500].forEach(v=>txt(g,X(v),1501,String(v),5.5,'cv-x-tick',{'text-anchor':'middle'}));
[0,0.25,0.5,0.75,1].forEach(v=>txt(g,331,Y(v)+1.5,v.toFixed(2).replace(/0$/,''),5,'cv-y-tick',{'text-anchor':'end'}));
txt(g,398,1508,'Time(days)',5.5,'cv-x-title',{'text-anchor':'middle'});txt(g,316,1452,'Survival probability',5,'cv-y-title',{transform:'rotate(-90 316 1452)','text-anchor':'middle'});
txt(g,430,1418,'Riskscore',5,'cv-legend-title');txt(g,433,1425,'— Low',5,'cv-legend-low',{fill:'#5070e0'});txt(g,433,1432,'— High',5,'cv-legend-high',{fill:'#e05030'});
txt(g,338,1482,'HR = 2.67 (1.29 − 5.51)',5.5,'cv-hr');txt(g,338,1489,'P = 0.008',5.5,'cv-p',{'font-style':'italic'});
mk(g,'rect',{x:335,y:1511,width:125,height:20,fill:'#fff',stroke:'#333','stroke-width':0.6},'cv-risk-table');
txt(g,314,1520,'Low',6,'cv-table-low-label',{fill:'#5070e0'});txt(g,314,1529,'High',6,'cv-table-high-label',{fill:'#e05030'});
[['40','40'],['38','32'],['34','21'],['30','20']].forEach((p,i)=>{txt(g,X(i*500),1520,p[0],6,'cv-table-low',{fill:'#5070e0','text-anchor':'middle'});txt(g,X(i*500),1529,p[1],6,'cv-table-high',{fill:'#e05030','text-anchor':'middle'});});})();

(function(){const g=G('exp');mk(g,'rect',{x:589,y:1393,width:70,height:64,fill:'url(#cells)'},'migration-nc');mk(g,'rect',{x:661,y:1393,width:73,height:64,fill:'url(#cells2)'},'migration-sh');
mk(g,'rect',{x:589,y:1459,width:70,height:72,fill:'url(#cells)'},'invasion-nc');mk(g,'rect',{x:661,y:1459,width:73,height:72,fill:'url(#cells2)'},'invasion-sh');
txt(g,624,1389,'sh-N.C.',6.5,'exp-col-nc',{'text-anchor':'middle'});txt(g,698,1389,'sh-MIR4435-2HG',6.5,'exp-col-sh',{'text-anchor':'middle'});
txt(g,582,1425,'Migration',6.5,'exp-row-migration',{transform:'rotate(-90 582 1425)','text-anchor':'middle'});txt(g,582,1495,'Invasion',6.5,'exp-row-invasion',{transform:'rotate(-90 582 1495)','text-anchor':'middle'});
txt(g,571,1462,'HepG2',6.5,'exp-cell-line',{transform:'rotate(-90 571 1462)','text-anchor':'middle'});})();

(function(){const g=G('drug');frame(g,845,1367,985,1485);const Y=lin(-0.5,11,1485,1367);
txt(g,890,1360,'Risk',5,'drug-legend');mk(g,'rect',{x:903,y:1355,width:8,height:6,fill:'#1f6fe8'},'drug-legend-low');txt(g,913,1360,'low',4.5,'drug-legend-low-text');mk(g,'rect',{x:926,y:1355,width:8,height:6,fill:'#d01818'},'drug-legend-high');txt(g,936,1360,'high',4.5,'drug-legend-high-text');
mk(g,'line',{x1:885,x2:950,y1:1373,y2:1373,stroke:'#333','stroke-width':0.5},'sig-bracket');txt(g,917,1371,'1.9e−05',5,'drug-pvalue',{'text-anchor':'middle'});
[[drugLow,'#1f6fe8',885,'low'],[drugHigh,'#d01818',950,'high']].forEach(d=>{const [m,q3,w1,q1,w0]=d[0];const x=d[2];
mk(g,'line',{x1:x,x2:x,y1:Y(w1+2.5),y2:Y(w0-2.5),stroke:'#222','stroke-width':0.6},'drug-whisker');
mk(g,'rect',{x:x-23,y:Y(q3),width:46,height:Y(q1)-Y(q3),fill:d[1],stroke:'#222','stroke-width':0.6},'drug-box-'+d[3]);
mk(g,'line',{x1:x-23,x2:x+23,y1:Y(m),y2:Y(m),stroke:'#111','stroke-width':1},'drug-median');
txt(g,x,1493,d[3],5.5,'drug-x-label',{'text-anchor':'middle'});});
[0,2.5,5,7.5,10].forEach(v=>txt(g,842,Y(v)+1.5,v.toFixed(1),5,'drug-y-tick',{'text-anchor':'end'}));
txt(g,917,1502,'Risk',5.5,'drug-x-title',{'text-anchor':'middle'});txt(g,830,1425,'AZD1332 sensitivity',5,'drug-y-title',{transform:'rotate(-90 830 1425)','text-anchor':'middle'});})();
</script>
</body></html>
